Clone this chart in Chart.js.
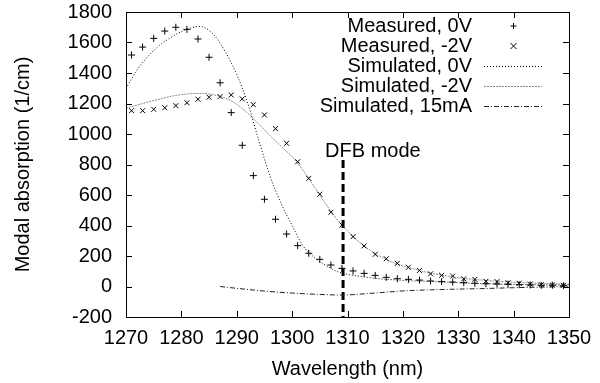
<!DOCTYPE html>
<html>
<head>
<meta charset="utf-8">
<script src="https://cdn.jsdelivr.net/npm/chart.js@4"></script>
<style>
  html, body { margin: 0; padding: 0; background: #fff; }
  #wrap { width: 600px; height: 383px; }
</style>
</head>
<body>
<div id="wrap"><canvas id="absChart"></canvas></div>
<script>
// ---- data ----
const measWl = [1271, 1273, 1275, 1277, 1279, 1281, 1283, 1285, 1287, 1289,
                1291, 1293, 1295, 1297, 1299, 1301, 1303, 1305, 1307, 1309,
                1311, 1313, 1315, 1317, 1319, 1321, 1323, 1325, 1327, 1329,
                1331, 1333, 1335, 1337, 1339, 1341, 1343, 1345, 1347, 1349];
const meas0V = [1518, 1570, 1627, 1675, 1700, 1686, 1623, 1503, 1336, 1140,
                926, 727, 572, 441, 344, 268, 218, 178, 141, 119,
                102, 86, 73, 60, 51, 47, 42, 36, 32, 29,
                25, 21, 18, 16, 15, 12, 10, 8, 8, 5];
const measM2V = [1153, 1153, 1162, 1172, 1186, 1205, 1228, 1241, 1245, 1256,
                 1230, 1192, 1125, 1035, 939, 818, 709, 605, 487, 403,
                 327, 266, 211, 182, 152, 126, 105, 83, 73, 68,
                 50, 47, 34, 32, 25, 21, 16, 12, 10, 8];

const sim0VWl = [1270, 1272, 1274, 1276, 1278, 1280, 1282, 1283, 1284, 1286,
                 1288, 1290, 1292, 1294, 1296, 1298, 1300, 1302, 1304, 1306,
                 1308, 1310, 1312, 1314, 1316, 1318, 1320, 1325, 1330, 1335,
                 1340, 1345, 1350];
const sim0V = [1300, 1420, 1510, 1580, 1630, 1672, 1698, 1705, 1700, 1645,
               1535, 1390, 1200, 955, 725, 545, 400, 265, 190, 140,
               100, 80, 68, 58, 50, 45, 40, 33, 25, 18,
               14, 11, 9];

const simM2VWl = [1270, 1272, 1274, 1276, 1278, 1280, 1282, 1284, 1286, 1288,
                  1290, 1292, 1294, 1296, 1298, 1300, 1302, 1304, 1306, 1308,
                  1310, 1312, 1314, 1316, 1318, 1320, 1322, 1325, 1330, 1335,
                  1340, 1345, 1350];
const simM2V = [1170, 1190, 1210, 1228, 1246, 1258, 1265, 1266, 1255, 1235,
                1195, 1135, 1065, 990, 920, 850, 760, 655, 545, 445,
                365, 295, 240, 195, 160, 135, 115, 88, 58, 40,
                28, 20, 15];

const sim15Wl = [1287, 1290, 1295, 1300, 1305, 1309, 1313, 1316, 1320, 1325,
                 1330, 1335, 1340, 1345, 1350];
const sim15mA = [0, -12, -30, -43, -52, -56, -48, -40, -29, -22,
                 -17, -13, -8, -4, -1];

const dfbWavelength = 1309.2;
const dfbRange = [830, -200];
const dfbLabel = 'DFB mode';

const seriesLabels = ['Measured, 0V', 'Measured, -2V', 'Simulated, 0V',
                      'Simulated, -2V', 'Simulated, 15mA'];

const FONT = '"Liberation Sans", Arial, Helvetica, sans-serif';
const FSIZE = 20;

function pts(xs, ys) {
    return xs.map((x, i) => ({ x: x, y: ys[i] }));
}

// ---- gnuplot-ish frame: box + inward ticks on all four sides ----
const framePlugin = {
    id: 'frame',
    afterDraw(chart) {
        const { ctx, chartArea: a, scales } = chart;
        const tl = 6;
        ctx.save();
        ctx.strokeStyle = '#000';
        ctx.lineWidth = 1;
        ctx.beginPath();
        scales.x.ticks.forEach(t => {
            const px = Math.round(scales.x.getPixelForValue(t.value)) + 0.5;
            ctx.moveTo(px, a.bottom); ctx.lineTo(px, a.bottom - tl);
            ctx.moveTo(px, a.top); ctx.lineTo(px, a.top + tl);
        });
        scales.y.ticks.forEach(t => {
            const py = Math.round(scales.y.getPixelForValue(t.value)) + 0.5;
            ctx.moveTo(a.left, py); ctx.lineTo(a.left + tl, py);
            ctx.moveTo(a.right, py); ctx.lineTo(a.right - tl, py);
        });
        ctx.stroke();
        ctx.strokeRect(Math.round(a.left) + 0.5, Math.round(a.top) + 0.5,
                       Math.round(a.right - a.left), Math.round(a.bottom - a.top));

        // DFB annotation text
        const dx = scales.x.getPixelForValue(dfbWavelength);
        const dy = scales.y.getPixelForValue(dfbRange[0]);
        ctx.fillStyle = '#000';
        ctx.font = FSIZE + 'px ' + FONT;
        ctx.textAlign = 'left';
        ctx.textBaseline = 'alphabetic';
        ctx.fillText(dfbLabel, dx - 18, dy - 3);

        // legend, gnuplot style: text right-aligned, sample on the right
        const textRight = 472, s0 = 484, s1 = 542, rowY = 26, rowH = 20;
        ctx.textAlign = 'right';
        ctx.textBaseline = 'middle';
        chart.data.datasets.forEach((ds, i) => {
            if (i >= seriesLabels.length) return;
            const y = rowY + i * rowH;
            ctx.fillStyle = '#000';
            ctx.fillText(ds.label, textRight, y);
            ctx.save();
            ctx.strokeStyle = ds.borderColor;
            ctx.lineWidth = 1;
            ctx.beginPath();
            if (ds.showLine === false) {
                const cx = Math.round((s0 + s1) / 2) + 0.5, r = 3;
                if (ds.pointStyle === 'cross') {
                    ctx.moveTo(cx - r, y); ctx.lineTo(cx + r, y);
                    ctx.moveTo(cx, y - r); ctx.lineTo(cx, y + r);
                } else {
                    ctx.moveTo(cx - r, y - r); ctx.lineTo(cx + r, y + r);
                    ctx.moveTo(cx - r, y + r); ctx.lineTo(cx + r, y - r);
                }
            } else {
                ctx.setLineDash(ds.borderDash || []);
                ctx.moveTo(s0, y + 0.5); ctx.lineTo(s1, y + 0.5);
            }
            ctx.stroke();
            ctx.restore();
        });
        ctx.restore();
    }
};

const ctx = document.getElementById('absChart').getContext('2d');
new Chart(ctx, {
    type: 'scatter',
    data: {
        datasets: [{
            label: seriesLabels[0],
            data: pts(measWl, meas0V),
            showLine: false,
            pointStyle: 'cross',
            pointRadius: 3.5,
            borderColor: '#000',
            borderWidth: 1
        }, {
            label: seriesLabels[1],
            data: pts(measWl, measM2V),
            showLine: false,
            pointStyle: 'crossRot',
            pointRadius: 3.5,
            borderColor: '#000',
            borderWidth: 1
        }, {
            label: seriesLabels[2],
            data: pts(sim0VWl, sim0V),
            showLine: true,
            pointRadius: 0,
            borderColor: '#000',
            borderWidth: 1,
            borderDash: [1, 2],
            cubicInterpolationMode: 'monotone'
        }, {
            label: seriesLabels[3],
            data: pts(simM2VWl, simM2V),
            showLine: true,
            pointRadius: 0,
            borderColor: '#8a8a8a',
            borderWidth: 1,
            borderDash: [2, 1],
            cubicInterpolationMode: 'monotone'
        }, {
            label: seriesLabels[4],
            data: pts(sim15Wl, sim15mA),
            showLine: true,
            pointRadius: 0,
            borderColor: '#222',
            borderWidth: 1,
            borderDash: [5, 2, 1, 2],
            cubicInterpolationMode: 'monotone'
        }, {
            label: dfbLabel,
            data: [{ x: dfbWavelength, y: dfbRange[0] }, { x: dfbWavelength, y: dfbRange[1] }],
            showLine: true,
            pointRadius: 0,
            borderColor: '#000',
            borderWidth: 3,
            borderDash: [8, 4]
        }]
    },
    options: {
        responsive: true,
        maintainAspectRatio: false,
        animation: false,
        layout: { padding: { top: 12, right: 31, left: 0, bottom: 0 } },
        plugins: {
            legend: { display: false },
            tooltip: { enabled: false }
        },
        scales: {
            x: {
                type: 'linear',
                min: 1270,
                max: 1350,
                grid: { display: false, drawTicks: false },
                border: { display: false },
                ticks: {
                    stepSize: 10,
                    padding: 9,
                    color: '#000',
                    maxRotation: 0,
                    callback: v => String(v),
                    font: { family: FONT, size: FSIZE }
                },
                title: {
                    display: true,
                    text: 'Wavelength (nm)',
                    color: '#000',
                    padding: { top: 2, bottom: 2 },
                    font: { family: FONT, size: FSIZE }
                },
                afterFit: s => {
                    s.height = 66;
                    s.paddingLeft = 0;
                    s.paddingRight = 0;
                }
            },
            y: {
                min: -200,
                max: 1800,
                grid: { display: false, drawTicks: false },
                border: { display: false },
                ticks: {
                    stepSize: 200,
                    padding: 14,
                    color: '#000',
                    callback: v => String(v),
                    font: { family: FONT, size: FSIZE }
                },
                title: {
                    display: true,
                    text: 'Modal absorption (1/cm)',
                    color: '#000',
                    padding: { top: 11, bottom: 2 },
                    font: { family: FONT, size: FSIZE }
                },
                afterFit: s => {
                    s.width = 126;
                    s.paddingTop = 0;
                    s.paddingBottom = 0;
                }
            }
        }
    },
    plugins: [framePlugin]
});
</script>
</body>
</html>
